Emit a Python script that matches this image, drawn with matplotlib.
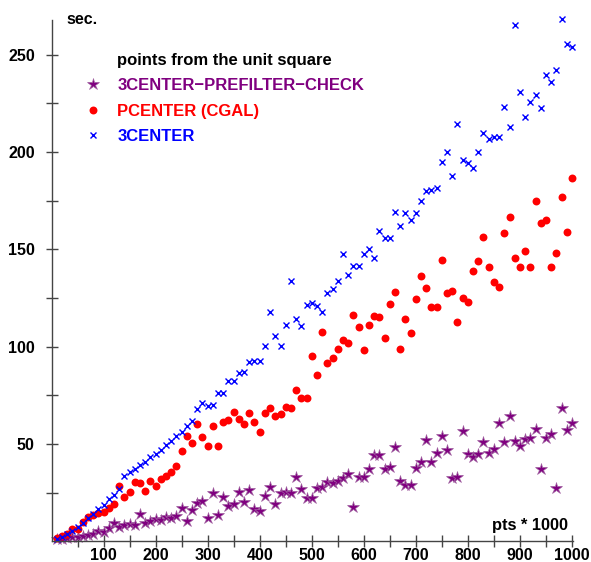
import matplotlib
matplotlib.use("Agg")
import matplotlib.pyplot as plt
from matplotlib.lines import Line2D

plt.rcParams['font.family'] = ['Liberation Sans', 'DejaVu Sans']
plt.rcParams['font.weight'] = 'bold'

# number of points (in thousands)
pts = list(range(10, 1001, 10))

# running times in seconds
prefilter = [1.0, 1.2, 1.5, 2.0, 2.4, 2.9, 3.2, 3.6, 5.3, 4.9,
             7.0, 9.2, 7.5, 8.4, 8.9, 8.4, 14.0, 9.6, 10.6, 11.3,
             10.9, 12.6, 11.8, 13.0, 16.9, 10.4, 15.9, 19.5, 20.7, 12.0,
             24.6, 13.5, 22.6, 18.0, 19.2, 25.2, 20.1, 26.2, 16.5, 15.7,
             23.3, 27.9, 19.1, 24.8, 25.1, 24.8, 32.8, 27.1, 22.2, 22.2,
             27.2, 28.1, 30.6, 30.2, 31.1, 32.4, 34.6, 17.4, 32.8, 32.8,
             37.0, 44.3, 44.1, 37.3, 38.3, 48.6, 30.8, 28.9, 28.9, 37.5,
             40.9, 52.0, 40.9, 45.2, 54.3, 46.9, 32.3, 33.2, 56.7, 44.7,
             43.5, 44.8, 50.8, 45.2, 47.2, 60.6, 51.2, 64.5, 51.5, 49.1,
             52.5, 52.9, 57.5, 37.0, 52.9, 55.1, 27.2, 68.3, 57.2, 60.9]

pcenter = [1.5, 2.5, 4.0, 6.5, 6.5, 10.0, 12.5, 13.5, 14.5, 15.0,
           17.0, 19.0, 28.5, 23.0, 25.5, 30.5, 30.0, 26.0, 31.0, 28.5,
           32.0, 33.5, 35.5, 38.5, 46.5, 54.2, 50.6, 60.1, 53.4, 49.0,
           59.4, 49.0, 61.2, 62.3, 66.2, 63.0, 60.3, 66.1, 61.3, 56.0,
           65.7, 68.4, 64.6, 65.3, 68.8, 68.4, 77.8, 73.7, 73.6, 95.2,
           85.7, 107.4, 91.8, 94.1, 98.6, 103.5, 102.1, 116.1, 110.3, 98.3,
           111.3, 115.8, 115.5, 104.4, 122.2, 128.0, 98.7, 114.3, 107.2, 124.4,
           136.4, 130.0, 120.6, 120.6, 144.6, 127.5, 128.8, 112.9, 125.1, 123.2,
           139.1, 144.1, 156.6, 141.2, 133.5, 130.5, 158.3, 166.7, 145.8, 140.8,
           149.4, 140.8, 174.9, 163.4, 165.3, 140.8, 148.2, 177.0, 159.0, 186.8]

threecenter = [1.0, 2.2, 3.6, 5.5, 7.5, 9.5, 12.0, 14.2, 16.5, 18.7,
               21.5, 24.0, 26.8, 33.8, 35.5, 37.2, 39.0, 41.0, 43.2, 45.0,
               47.0, 49.3, 51.5, 54.3, 56.2, 59.3, 62.0, 68.2, 71.1, 69.3,
               70.1, 76.2, 76.1, 82.5, 82.3, 86.3, 87.0, 92.0, 92.5, 92.9,
               100.5, 117.9, 105.7, 100.5, 111.1, 133.8, 114.1, 110.4, 121.5, 122.7,
               121.0, 117.7, 127.8, 129.6, 133.8, 147.5, 136.8, 141.5, 141.5, 147.7,
               150.2, 145.4, 159.3, 155.8, 155.8, 169.4, 162.1, 168.9, 165.1, 168.9,
               175.1, 179.8, 180.4, 181.6, 195.1, 199.9, 187.9, 214.5, 196.0, 194.3,
               191.7, 199.9, 210.0, 206.6, 207.6, 208.0, 223.0, 213.1, 265.4, 231.1,
               218.2, 226.0, 229.4, 222.9, 239.7, 236.2, 242.2, 268.3, 255.6, 254.2]

purple = "#800080"
red = "#ff0000"
blue = "#0000ff"

fig = plt.figure(figsize=(5.91, 5.62), dpi=100)
ax = fig.add_axes([51.5 / 591, 20.7 / 562, 521.5 / 591, 521.5 / 562])

ax.plot(pts, prefilter, linestyle="none", marker="*", markersize=9,
        color=purple, markeredgewidth=0.5, markeredgecolor="#a060a0",
        clip_on=False)
ax.plot(pts, pcenter, linestyle="none", marker="o", markersize=5.7,
        color=red, markeredgewidth=0, clip_on=False)
ax.plot(pts, threecenter, linestyle="none", marker="x", markersize=4.8,
        color=blue, markeredgewidth=1.0, clip_on=False)

ax.set_xlim(0, 1002)
ax.set_ylim(0, 268)

for s in ["top", "right"]:
    ax.spines[s].set_visible(False)
for s in ["left", "bottom"]:
    ax.spines[s].set_color("#444444")
    ax.spines[s].set_linewidth(1.0)

ax.set_xticks(range(50, 1001, 50))
ax.set_xticklabels([str(v) if v % 100 == 0 else "" for v in range(50, 1001, 50)])
ax.set_yticks(range(25, 251, 25))
ax.set_yticklabels([str(v) if v % 50 == 0 else "" for v in range(25, 251, 25)])
ax.tick_params(axis="both", direction="inout", length=9, width=1.0,
               color="#444444", labelsize=11.5)
ax.tick_params(axis="y", pad=7.5)
ax.tick_params(axis="x", pad=0.3)
for lab in ax.get_xticklabels() + ax.get_yticklabels():
    lab.set_fontweight("bold")

fig.text(66 / 591, 1 - 19.5 / 562, "sec.", ha="left", va="center",
         fontsize=11.5, fontweight="bold")
fig.text(568 / 591, 1 - 530 / 562, "pts * 1000", ha="right", va="baseline",
         fontsize=11.8, fontweight="bold")

handles = [
    Line2D([], [], linestyle="none"),
    Line2D([], [], linestyle="none", marker="*", markersize=9, color=purple,
           markeredgewidth=0.5, markeredgecolor="#a060a0"),
    Line2D([], [], linestyle="none", marker="o", markersize=5.7, color=red,
           markeredgewidth=0),
    Line2D([], [], linestyle="none", marker="x", markersize=4.8, color=blue,
           markeredgewidth=1.0),
]
labels = ["points from the unit square", "3CENTER\u2212PREFILTER\u2212CHECK",
          "PCENTER (CGAL)", "3CENTER"]
leg = ax.legend(handles, labels, loc="upper left",
                bbox_to_anchor=(85 / 591, 1 - 53 / 562),
                bbox_transform=fig.transFigure, frameon=False,
                prop={"size": 12, "weight": "bold"},
                handlelength=1.0, handletextpad=0.93, labelspacing=0.62,
                borderpad=0, borderaxespad=0)
for t, c in zip(leg.get_texts(), ["black", purple, red, blue]):
    t.set_color(c)

fig.savefig("out.png", dpi=100)
